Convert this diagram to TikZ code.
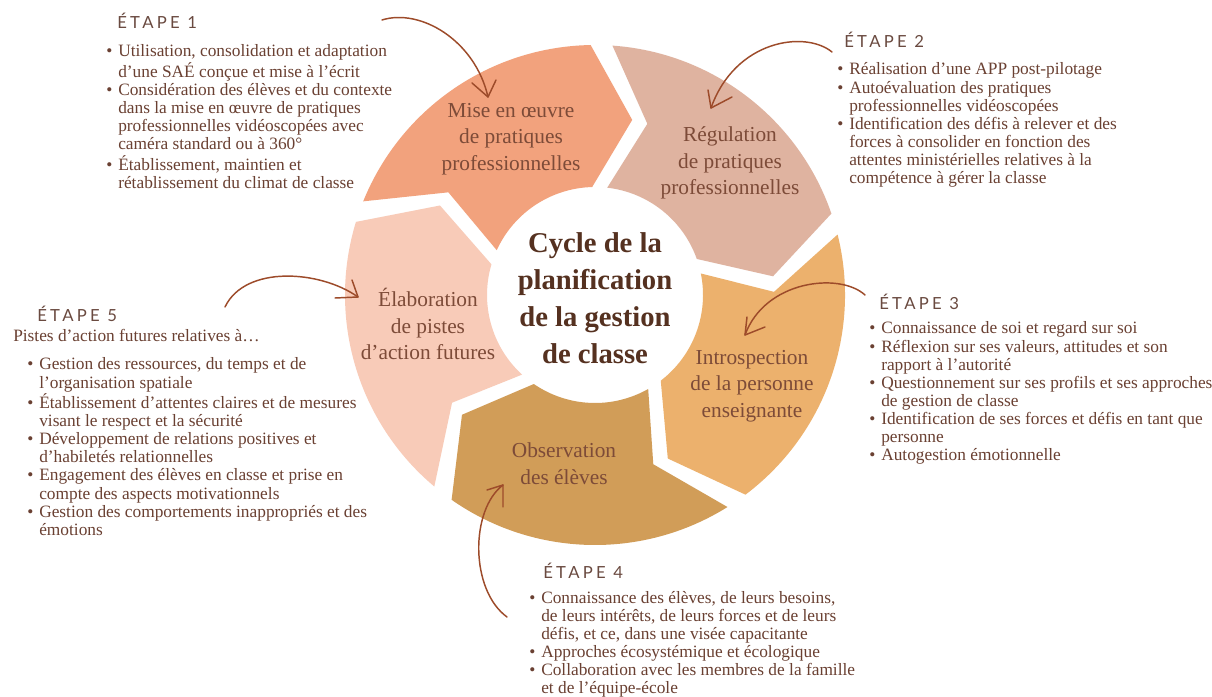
\documentclass[tikz,border=0pt]{standalone}
\usepackage{fontspec}
\setmainfont{Liberation Serif}
\newfontfamily\stepfont[LetterSpace=20]{Lato}
\definecolor{sA}{HTML}{F2A27D}
\definecolor{sB}{HTML}{DFB3A0}
\definecolor{sC}{HTML}{ECB16D}
\definecolor{sD}{HTML}{D19D58}
\definecolor{sE}{HTML}{F8CBB8}
\definecolor{txt}{HTML}{6A4032}
\definecolor{ttl}{HTML}{6A4A40}
\definecolor{segtxt}{HTML}{7D4B38}
\definecolor{ctr}{HTML}{553120}
\definecolor{arr}{HTML}{9D4B2A}
\newcommand{\bul}{\makebox[9pt][l]{\textbullet}}
% #1 leading angle, #2 trailing angle, #3 colour
\newcommand{\wheelseg}[3]{%
  \fill[#3] (#2:187.5pt) arc[start angle=#2, end angle=#1, radius=187.5pt]
    -- (#1-13:134.25pt) -- (#1+0.5:81pt)
    arc[start angle=#1+0.5, end angle=#2-2.5, radius=81pt]
    -- (#2-13:134.25pt) -- cycle;}
\begin{document}
\begin{tikzpicture}[x=0.75pt,y=0.75pt,
  body/.style={font=\fontsize{13}{13.6}\selectfont, text=txt, inner sep=0pt, anchor=base west},
  steptitle/.style={font=\stepfont\fontsize{12.5}{14}\selectfont, text=ttl, inner sep=0pt, anchor=base west},
  seglabel/.style={font=\fontsize{16}{20}\selectfont, text=segtxt, align=center, inner sep=0pt},
  centre/.style={font=\bfseries\fontsize{21.5}{27.75}\selectfont, text=ctr, align=center, inner sep=0pt},
  curvy/.style={draw=arr, line width=1.1pt, line cap=round, line join=round}]
\useasboundingbox (0,0) rectangle (1212,696);
\fill[white] (0,0) rectangle (1212,696);

% wheel
\begin{scope}[shift={(595,401)}]
  \wheelseg{91}{158}{sA}
  \wheelseg{19}{86}{sB}
  \wheelseg{-53}{14}{sC}
  \wheelseg{-125}{-58}{sD}
  \wheelseg{163}{230}{sE}
\end{scope}

% segment labels
\node[seglabel] (s1) at (511,557) {Mise en œuvre\\de pratiques\\professionnelles};
\node[seglabel] (s2) at (730,533) {Régulation\\de pratiques\\professionnelles};
\node[seglabel] (s3) at (752,310) {Introspection\\de la personne\\enseignante};
\node[seglabel] (s4) at (564,232) {Observation\\des élèves};
\node[seglabel] (s5) at (428,372) {Élaboration\\de pistes\\d’action futures};
\node[centre] (ctr) at (595,398) {Cycle de la\\planification\\de la gestion\\de classe};

% headings
\node[steptitle] (e1) at (117,667) {ÉTAPE 1};
\node[steptitle] (e2) at (844,648) {ÉTAPE 2};
\node[steptitle] (e3) at (879,386) {ÉTAPE 3};
\node[steptitle] (e4) at (543,118) {ÉTAPE 4};
\node[steptitle] (e5) at (37,374) {ÉTAPE 5};

% lists
\node[body] (l1) at (106,639) {\begin{tabular}[t]{@{}l@{}l@{}}
\bul & Utilisation, consolidation et adaptation\\
 & d’une SAÉ conçue et mise à l’écrit\\
\bul & Considération des élèves et du contexte\\
 & dans la mise en œuvre de pratiques\\
 & professionnelles vidéoscopées avec\\
 & caméra standard ou à 360°\\
\bul & Établissement, maintien et\\
 & rétablissement du climat de classe
\end{tabular}};

\node[body] (l2) at (837,621) {\begin{tabular}[t]{@{}l@{}l@{}}
\bul & Réalisation d’une APP post-pilotage\\
\bul & Autoévaluation des pratiques\\
 & professionnelles vidéoscopées\\
\bul & Identification des défis à relever et des\\
 & forces à consolider en fonction des\\
 & attentes ministérielles relatives à la\\
 & compétence à gérer la classe
\end{tabular}};

\node[body] (l3) at (869,362) {\begin{tabular}[t]{@{}l@{}l@{}}
\bul & Connaissance de soi et regard sur soi\\
\bul & Réflexion sur ses valeurs, attitudes et son\\
 & rapport à l’autorité\\
\bul & Questionnement sur ses profils et ses approches\\
 & de gestion de classe\\
\bul & Identification de ses forces et défis en tant que\\
 & personne\\
\bul & Autogestion émotionnelle
\end{tabular}};

\node[body] (l4) at (529,93) {\begin{tabular}[t]{@{}l@{}l@{}}
\bul & Connaissance des élèves, de leurs besoins,\\
 & de leurs intérêts, de leurs forces et de leurs\\
 & défis, et ce, dans une visée capacitante\\
\bul & Approches écosystémique et écologique\\
\bul & Collaboration avec les membres de la famille\\
 & et de l’équipe-école
\end{tabular}};

\node[body] (p5) at (13,354) {Pistes d’action futures relatives à…};
\node[body] (l5) at (27,326) {\begin{tabular}[t]{@{}l@{}l@{}}
\bul & Gestion des ressources, du temps et de\\
 & l’organisation spatiale\\
\bul & Établissement d’attentes claires et de mesures\\
 & visant le respect et la sécurité\\
\bul & Développement de relations positives et\\
 & d’habiletés relationnelles\\
\bul & Engagement des élèves en classe et prise en\\
 & compte des aspects motivationnels\\
\bul & Gestion des comportements inappropriés et des\\
 & émotions
\end{tabular}};

% curvy arrows
\coordinate (a1s) at (382,676); \coordinate (a1t) at (488,599);
\coordinate (a1l) at (472,613); \coordinate (a1r) at (496,616);
\draw[curvy] (a1s) .. controls (420,688) and (475,656) .. (a1t);
\draw[curvy] (a1l) -- (a1t) -- (a1r);

\coordinate (a2s) at (832,644); \coordinate (a2t) at (711,588);
\coordinate (a2l) at (708,606); \coordinate (a2r) at (732,599);
\draw[curvy] (a2s) .. controls (805,666) and (735,656) .. (a2t);
\draw[curvy] (a2l) -- (a2t) -- (a2r);

\coordinate (a3s) at (865,401); \coordinate (a3t) at (745,361);
\coordinate (a3l) at (747,379); \coordinate (a3r) at (765,369);
\draw[curvy] (a3s) .. controls (840,424) and (765,416) .. (a3t);
\draw[curvy] (a3l) -- (a3t) -- (a3r);

\coordinate (a4s) at (507,79); \coordinate (a4t) at (503,211);
\coordinate (a4l) at (487,206); \coordinate (a4r) at (503,189);
\draw[curvy] (a4s) .. controls (470,106) and (470,186) .. (a4t);
\draw[curvy] (a4l) -- (a4t) -- (a4r);

\coordinate (a5s) at (225,389); \coordinate (a5t) at (358,399);
\coordinate (a5l) at (352,416); \coordinate (a5r) at (335,398);
\draw[curvy] (a5s) .. controls (245,431) and (320,426) .. (a5t);
\draw[curvy] (a5l) -- (a5t) -- (a5r);
\end{tikzpicture}
\end{document}
